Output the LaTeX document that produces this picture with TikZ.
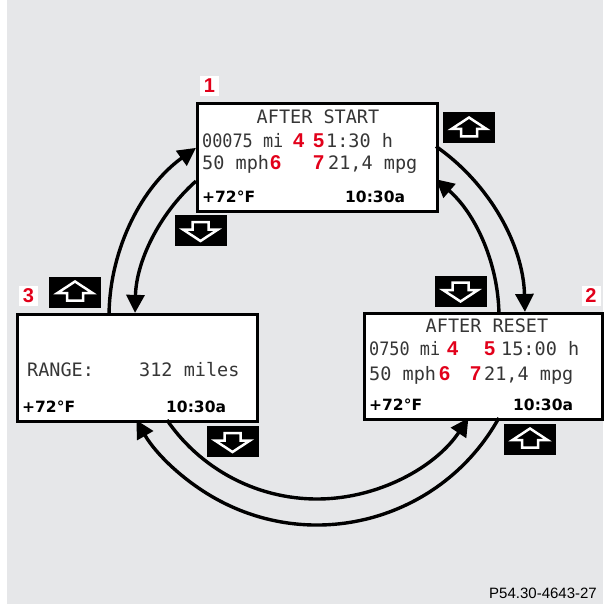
\documentclass[tikz,border=0pt]{standalone}
\usepackage{fontspec}
\setmainfont{Liberation Sans}
\newfontfamily\lcdfont{DejaVu Sans Mono}
\newfontfamily\dvs{DejaVu Sans}
\usetikzlibrary{arrows.meta}
\definecolor{bg}{HTML}{E6E7E9}
\definecolor{lcdred}{HTML}{E2001A}
\definecolor{lcdgray}{HTML}{363636}
\begin{document}
\begin{tikzpicture}[x=1pt,y=-1pt,
  screen/.style={draw=black, line width=3pt, fill=white, inner sep=0, anchor=north west},
  lcd/.style={anchor=base west, inner sep=0, font=\lcdfont\fontsize{18.5}{18.5}\selectfont, text=lcdgray},
  rednum/.style={anchor=base west, inner sep=0, font=\bfseries\fontsize{20}{20}\selectfont, text=lcdred},
  status/.style={anchor=base west, inner sep=0, font=\dvs\bfseries\fontsize{15.5}{15.5}\selectfont},
  tag/.style={fill=white, inner sep=0, minimum width=19pt, minimum height=20pt, font=\bfseries\fontsize{20}{20}\selectfont, text=lcdred},
  key/.style={fill=black, minimum width=52pt, minimum height=31pt, inner sep=0},
  keyup/.style={key, path picture={\draw[white, line width=2.5pt, fill=black, line join=miter]
    ([shift={(0,-10.5)}]path picture bounding box.center) -- ++(17.5,11.5) -- ++(-9.5,0) -- ++(0,7.5) -- ++(-16,0) -- ++(0,-7.5) -- ++(-9.5,0) -- cycle;}},
  keydown/.style={key, path picture={\draw[white, line width=2.5pt, fill=black, line join=miter]
    ([shift={(0,10.5)}]path picture bounding box.center) -- ++(17.5,-11.5) -- ++(-9.5,0) -- ++(0,-7.5) -- ++(-16,0) -- ++(0,7.5) -- ++(-9.5,0) -- cycle;}},
  flow/.style={line width=3.4pt, -{Triangle[length=18pt,width=18pt]}}
]
\useasboundingbox (0,0) rectangle (603,604);
\fill[bg] (7,0) rectangle (603,604);

% screens
\node[screen, minimum width=240pt, minimum height=108pt] (s1) at (196,102) {};
\node[screen, minimum width=240pt, minimum height=107pt] (s3) at (16,313) {};
\node[screen, minimum width=238pt, minimum height=106pt] (s2) at (363,312) {};

% tags
\node[tag] (n1) at (209.5,86) {1};
\node[tag] (n3) at (28.5,296) {3};
\node[tag] (n2) at (591,296) {2};

% keys
\node[keyup] (k1) at (469,128) {};
\node[keydown] (k2) at (200.5,230.5) {};
\node[keyup] (k3) at (75,292) {};
\node[keydown] (k4) at (460.5,291) {};
\node[keydown] (k5) at (232.5,441.5) {};
\node[keyup] (k6) at (530,439) {};

% screen 1 texts
\node[lcd, anchor=base] (a1) at (318,124) {AFTER START};
\node[lcd] (a2) at (202,147) {\scalebox{0.91}[1]{00075 mi}};
\node[rednum] (a3) at (293,147) {4};
\node[rednum] (a4) at (313,147) {5};
\node[lcd] (a5) at (326,147) {1:30 h};
\node[lcd] (a6) at (202,169) {50 mph};
\node[rednum] (a7) at (270,169) {6};
\node[rednum] (a8) at (313,169) {7};
\node[lcd] (a9) at (328,169) {21,4 mpg};
\node[status] (a10) at (202,202) {+72°F};
\node[status] (a11) at (345,202) {10:30a};

% screen 3 texts
\node[lcd] (c1) at (27,376) {RANGE:};
\node[lcd] (c2) at (139,376) {312 miles};
\node[status] (c3) at (22,412) {+72°F};
\node[status] (c4) at (166,412) {10:30a};

% screen 2 texts
\node[lcd, anchor=base] (b1) at (487,332) {AFTER RESET};
\node[lcd] (b2) at (369,355) {\scalebox{0.91}[1]{0750 mi}};
\node[rednum] (b3) at (447,355) {4};
\node[rednum] (b4) at (484,355) {5};
\node[lcd] (b5) at (501,355) {15:00 h};
\node[lcd] (b6) at (369,380) {50 mph};
\node[rednum] (b7) at (439,380) {6};
\node[rednum] (b8) at (470,380) {7};
\node[lcd] (b9) at (484,380) {21,4 mpg};
\node[status] (b10) at (369,410) {+72°F};
\node[status] (b11) at (513,410) {10:30a};

% connectors (concentric arcs around O)
\coordinate (O) at (317,317);
\draw[flow] ([shift={(181.1:208)}]O) arc[start angle=181.1, end angle=234.4, radius=208];
\draw[flow] ([shift={(228.3:182)}]O) arc[start angle=228.3, end angle=181.3, radius=182];
\draw[flow] ([shift={(304.9:208)}]O) arc[start angle=304.9, end angle=358.6, radius=208];
\draw[flow] ([shift={(358.4:182)}]O) arc[start angle=358.4, end angle=310.8, radius=182];
\draw[flow] ([shift={(145.5:182)}]O) arc[start angle=145.5, end angle=33.7, radius=182];
\draw[flow] ([shift={(29.05:208)}]O) arc[start angle=29.05, end angle=150.3, radius=208];

\node[anchor=base east, inner sep=0, font=\fontsize{15}{15}\selectfont] (code) at (597,598) {P54.30-4643-27};
\end{tikzpicture}
\end{document}
